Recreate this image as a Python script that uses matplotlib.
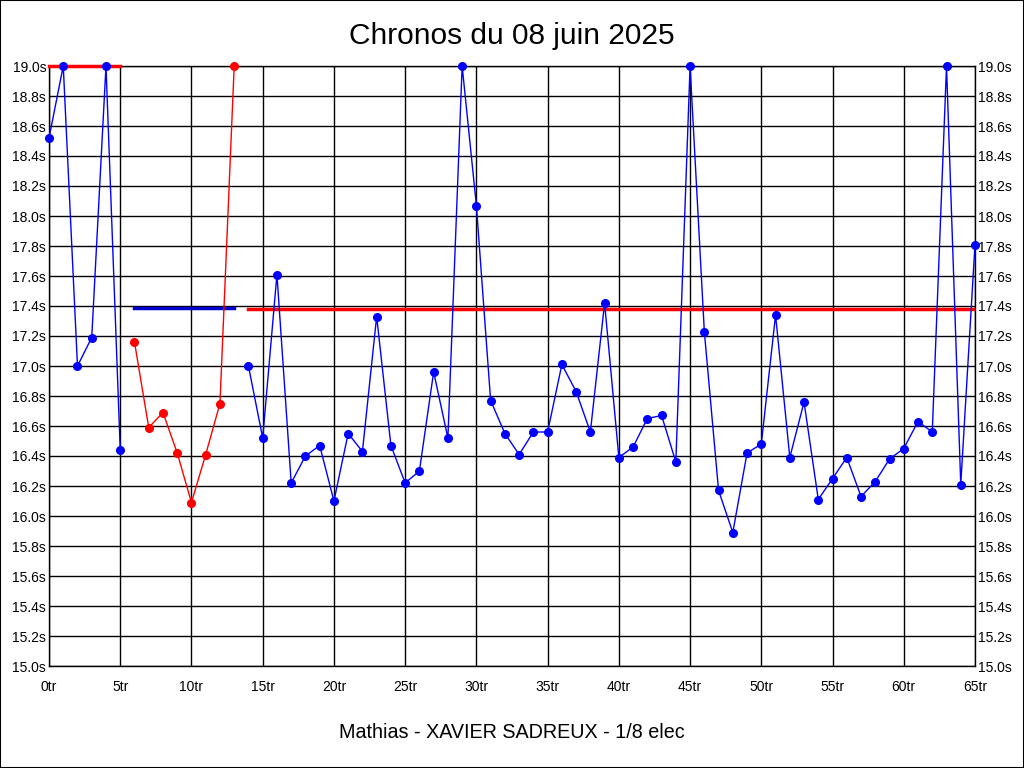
import numpy as np
import matplotlib
matplotlib.use("Agg")
import matplotlib.pyplot as plt
from matplotlib.ticker import FuncFormatter, MultipleLocator

plt.rcParams['font.family'] = ['Liberation Sans', 'DejaVu Sans']

# tours / chronos par relais
tours_a = [0, 1, 2, 3, 4, 5]
chronos_a = [18.52, 19.0, 17.0, 17.19, 19.0, 16.44]

tours_b = [6, 7, 8, 9, 10, 11, 12, 13]
chronos_b = [17.16, 16.59, 16.69, 16.42, 16.09, 16.41, 16.75, 19.0]

tours_c = list(range(14, 66))
chronos_c = [17.0, 16.52, 17.61, 16.22, 16.40, 16.47, 16.10, 16.55, 16.43, 17.33,
             16.47, 16.22, 16.30, 16.96, 16.52, 19.0, 18.07, 16.77, 16.55, 16.41,
             16.56, 16.56, 17.01, 16.83, 16.56, 17.42, 16.39, 16.46, 16.65, 16.67,
             16.36, 19.0, 17.23, 16.17, 15.89, 16.42, 16.48, 17.34, 16.39, 16.76,
             16.11, 16.25, 16.39, 16.13, 16.23, 16.38, 16.45, 16.63, 16.56, 19.0,
             16.21, 17.81]

# moyennes affichées
moy_a = 19.0
moy_b = 17.39
moy_c = 17.38

fig = plt.figure(figsize=(10.24, 7.68), dpi=100)
ax = fig.add_axes([49/1024, 1-666/768, 926/1024, 600/768])

ax.plot([tours_a[0], tours_a[-1]], [moy_a, moy_a], color='red', lw=2.5, clip_on=False, zorder=3)
ax.plot([tours_b[0], tours_b[-1]], [moy_b, moy_b], color='#0000cc', lw=2.5, zorder=3)
ax.plot([tours_c[0], tours_c[-1]], [moy_c, moy_c], color='red', lw=2.5, zorder=3)

ax.plot(tours_a, chronos_a, color='blue', lw=1, marker='o', ms=5.5, clip_on=False, zorder=4)
ax.plot(tours_b, chronos_b, color='red', lw=1, marker='o', ms=5.5, clip_on=False, zorder=4)
ax.plot(tours_c, chronos_c, color='blue', lw=1, marker='o', ms=5.5, clip_on=False, zorder=4)

ax.set_xlim(0, 65)
ax.set_ylim(15.0, 19.0)
ax.xaxis.set_major_locator(MultipleLocator(5))
ax.yaxis.set_major_locator(MultipleLocator(0.2))
ax.xaxis.set_major_formatter(FuncFormatter(lambda v, p: f"{v:.0f}tr"))
ax.yaxis.set_major_formatter(FuncFormatter(lambda v, p: f"{v:.1f}s"))
ax.tick_params(length=0, labelsize=10, labelright=True, pad=2)
ax.tick_params(axis='x', pad=10)
ax.grid(True, color='black', lw=1)
for s in ax.spines.values():
    s.set_color('black')
    s.set_linewidth(1)

fig.text(0.5, 1-36/768, "Chronos du 08 juin 2025", ha='center', va='center', fontsize=21.5)
fig.text(0.5, 1-733/768, "Mathias - XAVIER SADREUX - 1/8 elec", ha='center', va='center', fontsize=14.2)

fig.patches.append(plt.Rectangle((0, 0), 1, 1, transform=fig.transFigure,
                                 fill=False, edgecolor='black', lw=1.5))

fig.savefig("out.png", dpi=100)
